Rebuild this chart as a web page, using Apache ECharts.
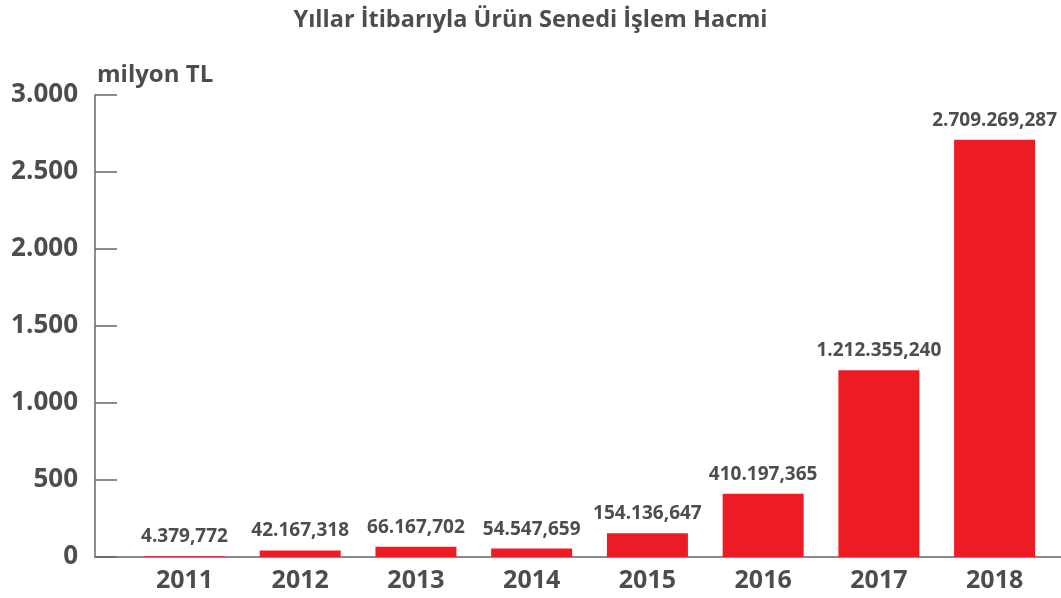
<!DOCTYPE html>
<html>
<head>
<meta charset="utf-8">
<script src="https://cdn.jsdelivr.net/npm/echarts@6/dist/echarts.min.js"></script>
<style>html,body{margin:0;padding:0;background:#fff}#c{width:1061px;height:598px}</style>
</head>
<body>
<div id="c"></div>
<script>
var years = ['2011','2012','2013','2014','2015','2016','2017','2018'];
var values = [4.379772, 42.167318, 66.167702, 54.547659, 154.136647, 410.197365, 1212.355240, 2709.269287];
var valueLabels = ['4.379,772','42.167,318','66.167,702','54.547,659','154.136,647','410.197,365','1.212.355,240','2.709.269,287'];
var yTicks = [0, 500, 1000, 1500, 2000, 2500, 3000];
var yTickLabels = ['0','500','1.000','1.500','2.000','2.500','3.000'];
var titleText = 'Yıllar İtibarıyla Ürün Senedi İşlem Hacmi';
var unitText = 'milyon TL';

var FONT = '"Open Sans", sans-serif';
var TXT = '#4d4d4f';
var chart = echarts.init(document.getElementById('c'));
chart.setOption({
  animation: false,
  title: [
    {text: titleText, left: 'center', top: 3,
     textStyle: {fontFamily: FONT, fontWeight: 'bold', fontSize: 23.5, color: TXT}},
    {text: unitText, left: 92, top: 58,
     textStyle: {fontFamily: FONT, fontWeight: 'bold', fontSize: 24, color: TXT}}
  ],
  grid: [
    {left: 126.6, right: 8.5, top: 95, bottom: 41, containLabel: false},
    {left: 95, right: 0, top: 95, bottom: 41, containLabel: false}
  ],
  xAxis: [
    {type: 'category', gridIndex: 0, data: years,
     axisLine: {show: false}, axisTick: {show: false},
     axisLabel: {fontFamily: FONT, fontWeight: 'bold', fontSize: 25, color: TXT, margin: 11}},
    {type: 'value', gridIndex: 1, min: 0, max: 1,
     axisLine: {show: true, lineStyle: {color: '#8a8a8a', width: 2}},
     axisTick: {show: false}, axisLabel: {show: false}, splitLine: {show: false}}
  ],
  yAxis: [
    {type: 'value', gridIndex: 0, min: yTicks[0], max: yTicks[yTicks.length-1], interval: 500,
     offset: 31.6,
     axisLine: {show: true, lineStyle: {color: '#666666', width: 1.5}},
     axisTick: {show: true, inside: true, length: 22, lineStyle: {color: '#666666', width: 1.5}},
     splitLine: {show: false},
     axisLabel: {fontFamily: FONT, fontWeight: 'bold', fontSize: 26, color: TXT, margin: 17,
       formatter: function (v) { var i = yTicks.indexOf(v); return i >= 0 ? yTickLabels[i] : ''; }}},
    {type: 'value', gridIndex: 1, min: 0, max: 1, show: false}
  ],
  series: [{
    type: 'bar', xAxisIndex: 0, yAxisIndex: 0,
    data: values, barWidth: 81,
    itemStyle: {color: '#ED1C24'},
    label: {show: true, position: 'top', distance: 10,
      fontFamily: FONT, fontWeight: 'bold', fontSize: 19, color: TXT,
      formatter: function (p) { return valueLabels[p.dataIndex]; }}
  }]
});
</script>
</body>
</html>
